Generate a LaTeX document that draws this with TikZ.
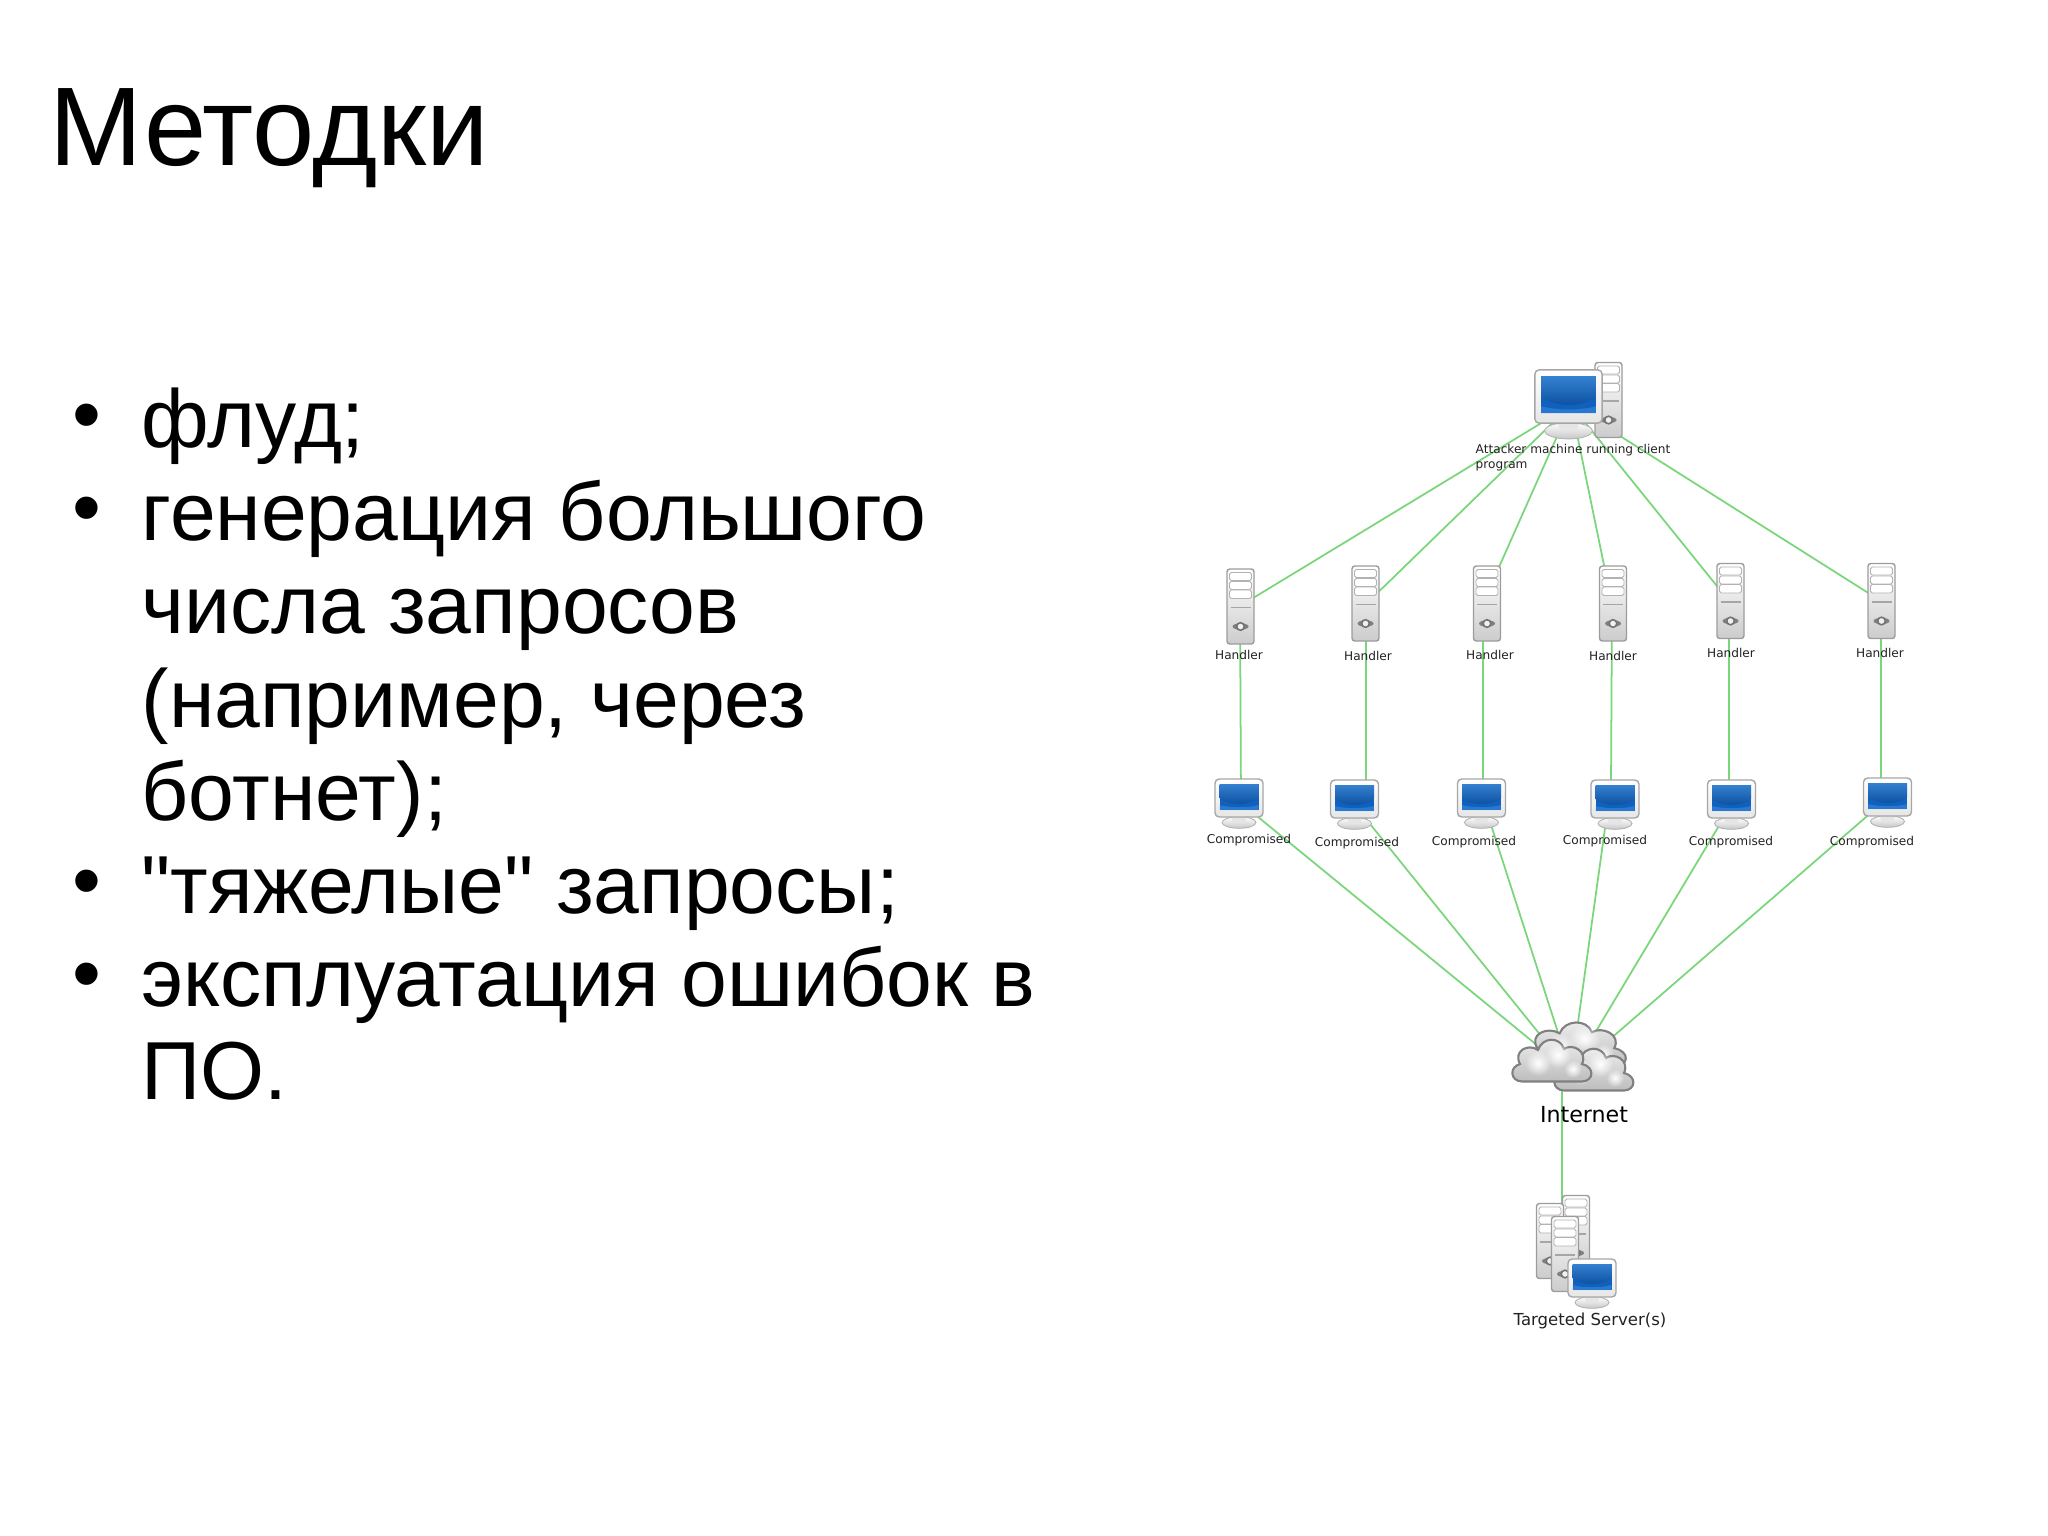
\documentclass[tikz,border=0pt]{standalone}
\usepackage{fontspec}
\newfontfamily\slidefont{Liberation Sans}
\newfontfamily\labelfont{DejaVu Sans}
\usepackage{xcolor}
\usetikzlibrary{fadings}
\definecolor{LinkGreen}{HTML}{7AD67A}
\definecolor{IconEdge}{HTML}{9C9C9C}
\definecolor{ScreenBlue}{HTML}{1060BE}
\definecolor{ScreenLight}{HTML}{4C9CEC}
\definecolor{LabelInk}{HTML}{222222}
\tikzfading[name=softpuff,inner color=transparent!0,outer color=transparent!100]
\tikzset{
    link/.style={draw=LinkGreen,line width=0.5pt},
    pagetext/.style={anchor=base west,inner sep=0pt,font=\slidefont\fontsize{23.4}{27}\selectfont},
    pagetitle/.style={anchor=base west,inner sep=0pt,font=\slidefont\fontsize{31.8}{38}\selectfont},
    smalllabel/.style={inner sep=0pt,text=LabelInk,font=\labelfont\fontsize{3.45}{4.27}\selectfont},
    pics/tower/.style={code={
        \draw[IconEdge,line width=0.4pt,rounded corners=0.8pt,top color=white,bottom color=black!20] (-13.5,-37.5) rectangle (13.5,37.5);
        \foreach \yt/\yb in {-34/-26,-25/-17,-16.5/-8}
            \draw[black!30,line width=0.25pt,rounded corners=0.5pt,fill=white] (-11,\yt) rectangle (11,\yb);
        \draw[black!35,line width=0.5pt] (-10,1) -- (10,1);
        \fill[black!50] (0,20) ellipse (8 and 3.2);
        \draw[black!55,fill=black!6,line width=0.45pt] (0,20) circle (3.8);
    }},
    pics/monitor/.style={code={
        \draw[black!30,line width=0.25pt,top color=white,bottom color=black!22] (0,24.5) ellipse (17 and 5.8);
        \fill[black!10] (-8,18) -- (8,18) -- (6,24) -- (-6,24) -- cycle;
        \draw[black!35,line width=0.4pt,rounded corners=1.2pt,top color=white,bottom color=black!10] (-24,-19) rectangle (24,19);
        \fill[ScreenBlue] (-19.5,-14) rectangle (19.5,12);
        \begin{scope}
            \clip (-19.5,-14) rectangle (19.5,12);
            \shade[top color=ScreenLight,bottom color=ScreenBlue!85!black] (0,-10) ellipse (25 and 16);
            \fill[ScreenLight,opacity=0.4] (-19.5,12) -- (-19.5,7) .. controls (-8,10) and (8,10) .. (19.5,7) -- (19.5,12) -- cycle;
        \end{scope}
    }},
    pics/puffs/.style={code={
        \path[draw=black!50,line width=0.6pt,top color=black!6,bottom color=black!26]
            (-30,20.5) .. controls (-42,20) and (-43,6) .. (-32,3)
            .. controls (-39,-10) and (-24,-18) .. (-14,-11)
            .. controls (-10,-24) and (8,-25) .. (12,-12)
            .. controls (20,-18) and (36,-10) .. (30,3)
            .. controls (43,6) and (42,20) .. (30,20.5) -- cycle;
        \fill[white,path fading=softpuff] (-14,2) circle (13);
        \fill[white,path fading=softpuff] (6,-6) circle (13);
        \fill[white,path fading=softpuff] (21,8) circle (9);
    }},
}
\begin{document}
\begin{tikzpicture}[x=0.01cm,y=-0.01cm]
    \useasboundingbox (0,0) rectangle (2048,1536);

    % left side of the slide
    \node[pagetitle] (title) at (49,165) {Методки};
    \foreach \n/\ypos/\txt in {1/447/{флуд;},2/540/{генерация большого},3/633/{числа запросов},4/727/{(например, через},5/820/{ботнет);},6/913/{"тяжелые" запросы;},7/1006/{эксплуатация ошибок в},8/1099/{ПО.}}
        \node[pagetext] (line\n) at (141,\ypos) {\txt};
    \foreach \n/\ypos in {1/442,2/535,6/908,7/1001}
        \node[pagetext] (dot\n) at (72,\ypos) {•};

    % hubs of the graph
    \coordinate (attacker) at (1571,405);
    \foreach \n/\xh/\yh in {1/1240/606,2/1366/604,3/1483/603,4/1612/604,5/1729/601,6/1881/601}
        \coordinate (handler\n) at (\xh,\yh);
    \foreach \n/\xc/\yc in {1/1241/803,2/1366/819,3/1483/800,4/1611/785,5/1729/809,6/1881/804}
        \coordinate (comp\n) at (\xc,\yc);
    \coordinate (internet) at (1571,1073);
    \coordinate (internetlow) at (1562,1075);
    \coordinate (target) at (1562,1240);

    % links go under the icons
    \foreach \n in {1,...,6}{
        \draw[link] (attacker) -- (handler\n);
        \draw[link] (handler\n) -- (comp\n);
        \draw[link] (comp\n) -- (internet);
    }
    \draw[link] (internetlow) -- (target);

    % icons
    \pic at (1608.5,400) {tower};
    \pic[scale=1.4] at (1568.5,396.5) {monitor};
    \foreach \xh/\yh in {1240.5/606.5,1365.5/603.5,1487/603.5,1613/603.5,1730.5/601,1881.5/601}
        \pic at (\xh,\yh) {tower};
    \foreach \xm/\ym in {1239/798,1354.5/799,1481.5/798,1615/799,1731.5/799,1887.5/797}
        \pic at (\xm,\ym) {monitor};
    \pic[xscale=1.24,yscale=1.06] at (1577,1045) {puffs};
    \pic at (1594,1070) {puffs};
    \pic at (1552,1061) {puffs};
    \pic at (1576,1233) {tower};
    \pic at (1550,1241) {tower};
    \pic at (1565,1254) {tower};
    \pic at (1592,1278) {monitor};

    % labels
    \node[smalllabel,anchor=west,align=left] (attackerlabel) at (1475,457.5) {Attacker machine running client\\program};
    \foreach \n/\xl/\yl in {1/1239/655,2/1368/656,3/1490/655,4/1613/656,5/1731/653,6/1880/653}
        \node[smalllabel] (handlerlabel\n) at (\xl,\yl) {Handler};
    \foreach \n/\xl/\yl in {1/1249/840,2/1357/843,3/1474/842,4/1605/841,5/1731/842,6/1872/842}
        \node[smalllabel] (complabel\n) at (\xl,\yl) {Compromised};
    \node[smalllabel,text=black,font=\labelfont\fontsize{6.3}{7}\selectfont] (internetlabel) at (1584,1115) {Internet};
    \node[smalllabel,font=\labelfont\fontsize{4.7}{5}\selectfont] (targetlabel) at (1590,1321) {Targeted Server(s)};
\end{tikzpicture}
\end{document}
